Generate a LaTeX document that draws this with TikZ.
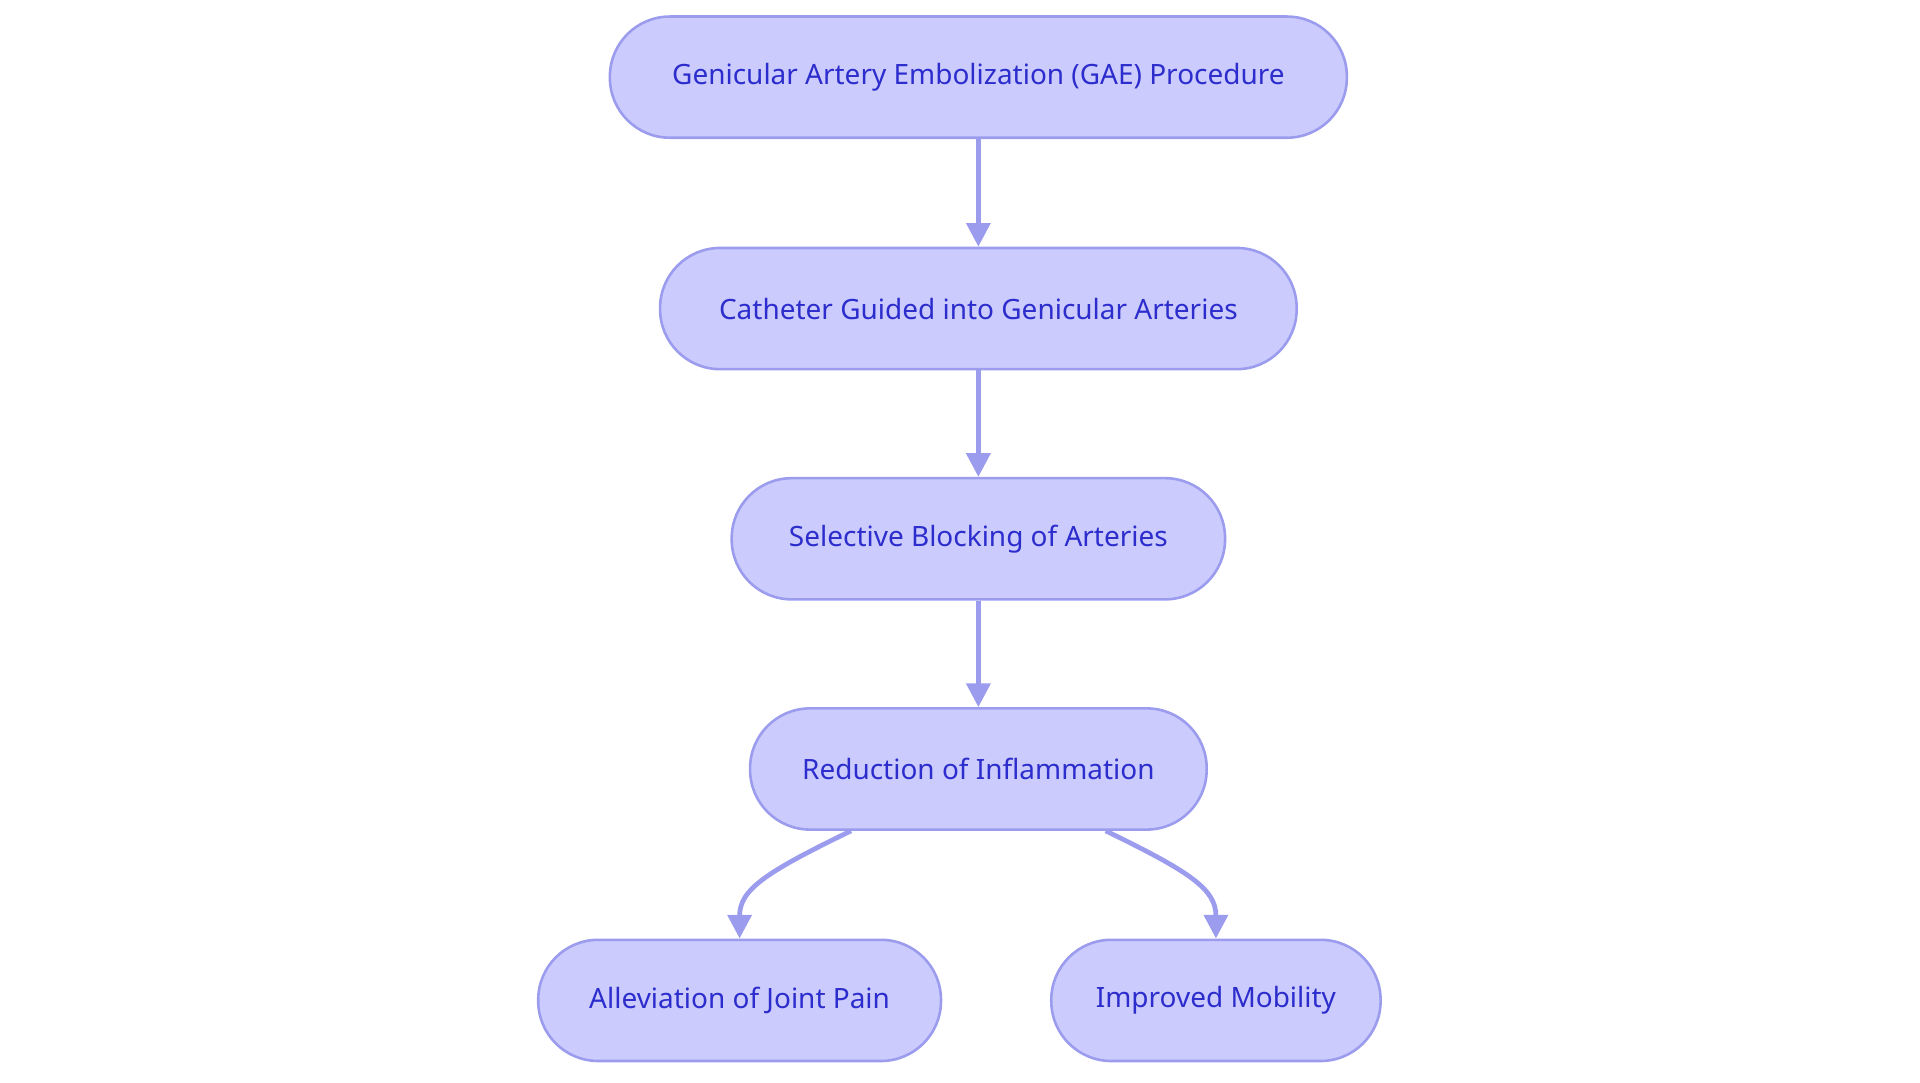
\documentclass[tikz,border=0pt]{standalone}
\usepackage{fontspec}
\setmainfont{Noto Sans}
\usetikzlibrary{arrows.meta}
\definecolor{boxfill}{HTML}{CBCCFD}
\definecolor{boxline}{HTML}{9B9CEE}
\definecolor{boxtext}{HTML}{2C2DCC}
\begin{document}
\begin{tikzpicture}
    [x=0.02cm,y=-0.02cm,
     stepstyle/.style={draw=boxline,fill=boxfill,text=boxtext,line width=1.2pt,
       rounded corners=0.98cm,minimum height=1.98cm,inner sep=0pt,font=\fontsize{13}{15}\selectfont},
     flowstyle/.style={draw=boxline,line width=2.2pt,-{Triangle[length=11pt,width=11pt]}}]

    \useasboundingbox (0,0) rectangle (1568,884);

    \node [stepstyle,minimum width=12.04cm] (gae) at (799,63) {Genicular Artery Embolization (GAE) Procedure};
    \node [stepstyle,minimum width=10.40cm] (catheter) at (799,252) {Catheter Guided into Genicular Arteries};
    \node [stepstyle,minimum width=8.06cm] (blocking) at (799,440) {Selective Blocking of Arteries};
    \node [stepstyle,minimum width=7.46cm] (reduction) at (799,628) {Reduction of Inflammation};
    \node [stepstyle,minimum width=6.58cm] (pain) at (604,817) {Alleviation of Joint Pain};
    \node [stepstyle,minimum width=5.38cm] (mobility) at (993,817) {Improved Mobility};

    \draw [flowstyle] (gae) -- (catheter);
    \draw [flowstyle] (catheter) -- (blocking);
    \draw [flowstyle] (blocking) -- (reduction);
    \draw [flowstyle] (reduction.south) ++(-104,0) .. controls +(-70,34) and +(0,-40) .. (pain.north);
    \draw [flowstyle] (reduction.south) ++(104,0) .. controls +(70,34) and +(0,-40) .. (mobility.north);
\end{tikzpicture}
\end{document}
